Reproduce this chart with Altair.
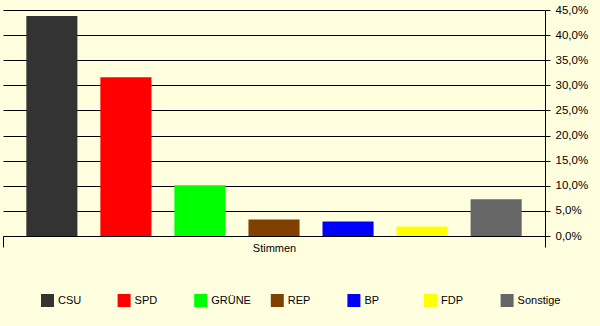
import altair as alt
import pandas as pd

parties = ["CSU", "SPD", "GRÜNE", "REP", "BP", "FDP", "Sonstige"]
shares = [43.8, 31.6, 10.1, 3.3, 2.9, 1.9, 7.3]
colors = ["#333333", "#FF0000", "#00FF00", "#804000", "#0000FF", "#FFFF00", "#666666"]
group = ["Stimmen"] * len(parties)
y_ticks = [0, 5, 10, 15, 20, 25, 30, 35, 40, 45]

df = pd.DataFrame({"Gruppe": group, "Partei": parties, "Anteil": shares})

FONT = "Liberation Sans"

chart = alt.Chart(df).mark_bar().encode(
    x=alt.X(
        "Gruppe:N",
        scale=alt.Scale(paddingInner=0, paddingOuter=0),
        axis=alt.Axis(
            title=None, labelAngle=0, domain=True, domainColor="black",
            ticks=True, tickBand="extent", tickSize=11, tickColor="black",
            labelPadding=-5, labelFontSize=11, labelColor="black", labelFont=FONT,
        ),
    ),
    xOffset=alt.XOffset(
        "Partei:N", sort=parties,
        scale=alt.Scale(paddingInner=0.31, paddingOuter=0.315),
    ),
    y=alt.Y(
        "Anteil:Q",
        scale=alt.Scale(domain=[0, 45], nice=False),
        axis=alt.Axis(
            orient="right", values=y_ticks, title=None,
            labelExpr="replace(format(datum.value, '.1f'), '.', ',') + '%'",
            grid=True, gridColor="black", gridOpacity=1, gridWidth=1,
            domainColor="black", tickColor="black", tickSize=5,
            labelPadding=5, labelFontSize=11.5, labelColor="black", labelFont=FONT,
        ),
    ),
    color=alt.Color(
        "Partei:N", sort=parties,
        scale=alt.Scale(domain=parties, range=colors),
        legend=alt.Legend(
            orient="none", legendX=38, legendY=284, direction="horizontal",
            columns=7, gridAlign="all", symbolType="square", symbolSize=169,
            symbolStrokeWidth=0, symbolOpacity=1, labelFontSize=11,
            labelFont=FONT, labelColor="black", labelOffset=4,
            columnPadding=16.6, title=None,
        ),
    ),
).properties(
    width=542, height=226,
    autosize=alt.AutoSizeParams(type="none"),
    padding={"left": 3, "top": 10, "right": 55, "bottom": 90},
    background="#FFFFE0",
).configure_view(stroke=None)

chart.save("out.html", embed_options={"renderer": "svg", "actions": False})
